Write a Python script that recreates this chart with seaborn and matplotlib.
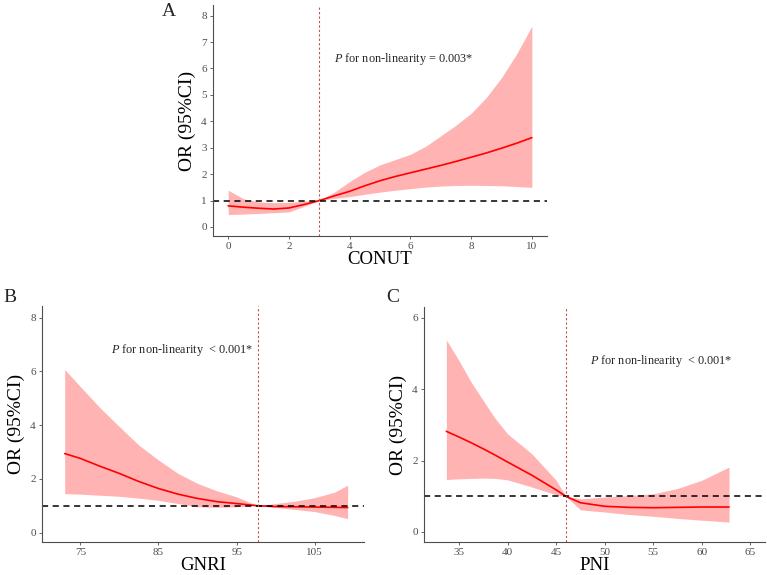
import numpy as np
import pandas as pd
import seaborn as sns
import matplotlib.pyplot as plt

# Panel A - CONUT
conut_x = [0, 0.5, 1, 1.5, 2, 2.5, 3, 3.5, 4, 4.5, 5, 5.5, 6, 6.5, 7, 7.5, 8, 8.5, 9, 9.5, 10]
conut_or = [0.80, 0.75, 0.71, 0.68, 0.72, 0.85, 1.0, 1.18, 1.35, 1.56, 1.75, 1.91, 2.05, 2.19, 2.33, 2.48, 2.64, 2.8, 2.98, 3.17, 3.38]
conut_lo = [0.47, 0.49, 0.51, 0.54, 0.57, 0.78, 1.0, 1.08, 1.15, 1.24, 1.32, 1.39, 1.45, 1.51, 1.55, 1.57, 1.58, 1.57, 1.56, 1.53, 1.5]
conut_hi = [1.39, 1.07, 0.95, 0.92, 0.93, 0.98, 1.0, 1.32, 1.72, 2.07, 2.35, 2.55, 2.75, 3.05, 3.45, 3.85, 4.3, 4.9, 5.65, 6.55, 7.6]

# Panel B - GNRI
gnri_x = [73, 75, 77.5, 80, 82.5, 85, 87.5, 90, 92.5, 95, 97.7, 100, 102.5, 105, 107.5, 109.2]
gnri_or = [2.94, 2.76, 2.47, 2.2, 1.9, 1.64, 1.43, 1.27, 1.15, 1.08, 1.0, 0.97, 0.96, 0.95, 0.94, 0.93]
gnri_lo = [1.45, 1.43, 1.39, 1.35, 1.28, 1.2, 1.08, 0.96, 0.94, 0.96, 1.0, 0.93, 0.86, 0.78, 0.64, 0.52]
gnri_hi = [6.07, 5.43, 4.65, 3.94, 3.25, 2.7, 2.2, 1.83, 1.55, 1.33, 1.0, 1.08, 1.17, 1.3, 1.5, 1.76]

# Panel C - PNI
pni_x = [33.7, 35, 36.25, 37.5, 38.75, 40, 42.5, 45, 46, 47.5, 50, 52.5, 55, 57.5, 60, 62.8]
pni_or = [2.82, 2.66, 2.5, 2.33, 2.15, 1.96, 1.59, 1.18, 1.0, 0.82, 0.72, 0.69, 0.68, 0.69, 0.70, 0.70]
pni_lo = [1.47, 1.49, 1.5, 1.51, 1.5, 1.46, 1.26, 1.04, 1.0, 0.62, 0.56, 0.49, 0.44, 0.38, 0.33, 0.28]
pni_hi = [5.38, 4.8, 4.2, 3.68, 3.17, 2.75, 2.19, 1.45, 1.0, 0.93, 0.98, 1.02, 1.07, 1.22, 1.45, 1.82]

sns.set_style("ticks")
plt.rcParams['font.family'] = ['Liberation Serif', 'DejaVu Serif']
plt.rcParams['mathtext.fontset'] = 'custom'
plt.rcParams['mathtext.it'] = 'Liberation Serif:italic'

fig = plt.figure(figsize=(7.67, 5.75), dpi=100)
axA = fig.add_axes([0.2777, 0.5896, 0.4355, 0.4017])
axB = fig.add_axes([0.0548, 0.0574, 0.4198, 0.4104])
axC = fig.add_axes([0.5528, 0.0574, 0.4446, 0.4086])

panels = [
    (axA, conut_x, conut_or, conut_lo, conut_hi, 3, "CONUT",
     (-0.5, 10.5), (-0.34, 8.4), [0, 2, 4, 6, 8, 10], range(0, 9),
     (3.5, 6.35), "$\\it{P}$ for non-linearity = 0.003*"),
    (axB, gnri_x, gnri_or, gnri_lo, gnri_hi, 97.7, "GNRI",
     (70.1, 111.3), (-0.35, 8.43), [75, 85, 95, 105], [0, 2, 4, 6, 8],
     (78.9, 6.8), "$\\it{P}$ for non-linearity  < 0.001*"),
    (axC, pni_x, pni_or, pni_lo, pni_hi, 46, "PNI",
     (31.4, 66.5), (-0.28, 6.3), [35, 40, 45, 50, 55, 60, 65], [0, 2, 4, 6],
     (48.5, 4.8), "$\\it{P}$ for non-linearity  < 0.001*"),
]

for ax, x, y, lo, hi, knot, xlab, xlim, ylim, xt, yt, txy, txt in panels:
    df = pd.DataFrame({"x": x, "OR": y, "lo": lo, "hi": hi})
    ax.fill_between(df["x"], df["lo"], df["hi"], color="#ffb3b3", lw=0)
    sns.lineplot(data=df, x="x", y="OR", ax=ax, color="#ff0000", lw=1.2)
    ax.axhline(1, color="black", ls=(0, (4, 3)), lw=1.1)
    ax.axvline(knot, color="#c0504d", ls=(0, (2, 2)), lw=0.8)
    ax.set_xlim(*xlim)
    ax.set_ylim(*ylim)
    ax.set_xticks(xt)
    ax.set_yticks(list(yt))
    ax.tick_params(labelsize=8, colors="#4d4d4d", length=2.5, width=0.6, pad=2)
    ax.set_xlabel(xlab, fontsize=13.5, color="black", labelpad=0)
    ax.set_ylabel("OR (95%CI)", fontsize=14, color="black", labelpad=4)
    for s in ["left", "bottom"]:
        ax.spines[s].set_color("#4d4d4d")
        ax.spines[s].set_linewidth(0.8)
    sns.despine(ax=ax)
    ax.text(txy[0], txy[1], txt, fontsize=8.8, va="center", ha="left")

fig.text(169 / 767, 1 - 11 / 575, "A", fontsize=14, ha="center", va="center")
fig.text(10 / 767, 1 - 297 / 575, "B", fontsize=14, ha="center", va="center")
fig.text(393 / 767, 1 - 297 / 575, "C", fontsize=14, ha="center", va="center")

fig.savefig("out.png", dpi=100)
